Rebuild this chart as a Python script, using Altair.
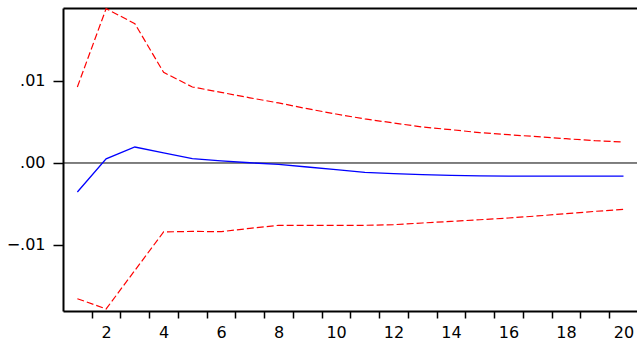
import altair as alt
import pandas as pd

# Impulse response over 20 periods with +/- 2 S.E. bands
periods = list(range(1, 21))
response = [-0.00354, 0.00050, 0.00195, 0.00124, 0.00052, 0.00025, 0.00003, -0.00017,
            -0.00049, -0.00082, -0.00114, -0.00130, -0.00143, -0.00150, -0.00158,
            -0.00160, -0.00160, -0.00160, -0.00160, -0.00160]
upper = [0.00927, 0.01882, 0.01699, 0.01105, 0.00927, 0.00861, 0.00795, 0.00732,
         0.00662, 0.00597, 0.00537, 0.00488, 0.00439, 0.00406, 0.00370, 0.00345,
         0.00321, 0.00296, 0.00272, 0.00256]
lower = [-0.01655, -0.01780, -0.01310, -0.00841, -0.00834, -0.00838, -0.00797, -0.00760,
         -0.00760, -0.00760, -0.00760, -0.00752, -0.00732, -0.00712, -0.00692, -0.00671,
         -0.00646, -0.00618, -0.00590, -0.00566]

x_label_values = list(range(2, 21, 2))
x_tick_values = [p + 0.5 for p in range(1, 20)]
y_tick_values = [-0.01, 0.0, 0.01]

df = pd.DataFrame({"period": periods, "response": response,
                   "upper": upper, "lower": lower})
zero_df = pd.DataFrame({"level": [0.0]})

x_scale = alt.Scale(domain=[0.5, 20.47], nice=False, zero=False)
y_scale = alt.Scale(domain=[-0.01805, 0.0189], nice=False, zero=False)

# one shared left axis, identical in every layer so the layers merge it
y_axis = alt.Axis(orient="left", values=y_tick_values,
                  labelExpr="replace(format(datum.value, '.2f'), '0.', '.')",
                  tickSize=10, tickWidth=1.5, tickColor="black",
                  domainColor="black", domainWidth=2, labelPadding=8,
                  grid=False, title=None)

base = alt.Chart(df)

# horizontal reference line at zero
zero_line = alt.Chart(zero_df).mark_rule(color="black", strokeWidth=1).encode(
    y=alt.Y("level:Q", scale=y_scale, axis=y_axis)
)

# upper band: carries the tick-only bottom axis
upper_line = base.mark_line(color="#ff0000", strokeWidth=1.2, strokeDash=[7, 3]).encode(
    x=alt.X("period:Q", scale=x_scale,
            axis=alt.Axis(orient="bottom", values=x_tick_values, labels=False,
                          tickSize=7, tickWidth=1.5, tickColor="black",
                          domainColor="black", domainWidth=2, grid=False, title=None)),
    y=alt.Y("upper:Q", scale=y_scale, axis=y_axis),
)

# lower band: carries the labelled bottom axis
lower_line = base.mark_line(color="#ff0000", strokeWidth=1.2, strokeDash=[7, 3]).encode(
    x=alt.X("period:Q", scale=x_scale,
            axis=alt.Axis(orient="bottom", values=x_label_values, ticks=False,
                          domain=False, labelPadding=13, grid=False, title=None)),
    y=alt.Y("lower:Q", scale=y_scale, axis=y_axis),
)

# response: carries the top frame line
response_line = base.mark_line(color="#0000ff", strokeWidth=1.3).encode(
    x=alt.X("period:Q", scale=x_scale,
            axis=alt.Axis(orient="top", labels=False, ticks=False,
                          domainColor="black", domainWidth=2, grid=False, title=None)),
    y=alt.Y("response:Q", scale=y_scale, axis=y_axis),
)

chart = (
    alt.layer(zero_line, upper_line, lower_line, response_line)
    .resolve_axis(x="independent")
    .properties(
        width=574,
        height=303,
        padding={"left": 63, "top": 8, "right": 0, "bottom": 34},
        autosize=alt.AutoSizeParams(type="none"),
        background="white",
    )
    .configure_view(strokeWidth=0)
    .configure_axis(labelFont="DejaVu Sans", labelFontSize=16, labelColor="black")
)

chart.save("out.html", embed_options={"renderer": "svg", "actions": False})
